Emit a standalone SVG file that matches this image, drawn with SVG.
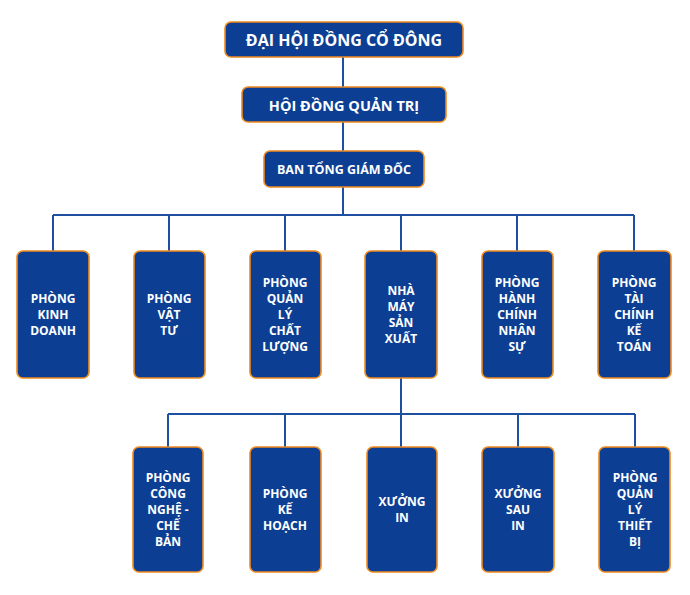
<svg xmlns="http://www.w3.org/2000/svg" width="690" height="595" viewBox="0 0 690 595">
<style>
.box{fill:#0c3f94;stroke:#f08a1e;stroke-width:1.6}
.t{font-family:"Open Sans","Liberation Sans",sans-serif;font-weight:bold;fill:#fff;text-anchor:middle;dominant-baseline:central}
.s{font-size:12px}
.ln{fill:none;stroke:#1f4fa0;stroke-width:2}
</style>
<rect width="690" height="595" fill="#fff"/>
<g id="connectors">
<path class="ln" d="M343 57V87M343 122V151M343 187V215M53 215H634M53 215V251M169 215V251M285 215V251M401 215V251M517 215V251M634 215V251"/>
<path class="ln" d="M401 378V447M168 414H635M168 414V447M285 414V447M518 414V447M635 414V447"/>
</g>
<g id="dhdcd"><rect class="box" x="225" y="22" width="238" height="35" rx="6"/><text class="t" x="344" y="40" font-size="16">ĐẠI HỘI ĐỒNG CỔ ĐÔNG</text></g>
<g id="hdqt"><rect class="box" x="242" y="87" width="204" height="35" rx="6"/><text class="t" x="344" y="105" font-size="14.5">HỘI ĐỒNG QUẢN TRỊ</text></g>
<g id="btgd"><rect class="box" x="264" y="151" width="160" height="36" rx="6"/><text class="t" x="344" y="169" font-size="12.5">BAN TỔNG GIÁM ĐỐC</text></g>

<g id="pkd"><rect class="box" x="17" y="251" width="72" height="127" rx="6"/><text class="t s" x="53" y="298">PHÒNG</text><text class="t s" x="53" y="314">KINH</text><text class="t s" x="53" y="330">DOANH</text></g>
<g id="pvt"><rect class="box" x="134" y="251" width="71" height="127" rx="6"/><text class="t s" x="169" y="298">PHÒNG</text><text class="t s" x="169" y="314">VẬT</text><text class="t s" x="169" y="330">TƯ</text></g>
<g id="pqlcl"><rect class="box" x="250" y="251" width="71" height="127" rx="6"/><text class="t s" x="285" y="282">PHÒNG</text><text class="t s" x="285" y="298">QUẢN</text><text class="t s" x="285" y="314">LÝ</text><text class="t s" x="285" y="330">CHẤT</text><text class="t s" x="285" y="346">LƯỢNG</text></g>
<g id="nmsx"><rect class="box" x="365" y="251" width="72" height="127" rx="6"/><text class="t s" x="401" y="290">NHÀ</text><text class="t s" x="401" y="306">MÁY</text><text class="t s" x="401" y="322">SẢN</text><text class="t s" x="401" y="338">XUẤT</text></g>
<g id="phcns"><rect class="box" x="482" y="251" width="71" height="127" rx="6"/><text class="t s" x="517" y="282">PHÒNG</text><text class="t s" x="517" y="298">HÀNH</text><text class="t s" x="517" y="314">CHÍNH</text><text class="t s" x="517" y="330">NHÂN</text><text class="t s" x="517" y="346">SỰ</text></g>
<g id="ptckt"><rect class="box" x="598" y="251" width="73" height="127" rx="6"/><text class="t s" x="634" y="282">PHÒNG</text><text class="t s" x="634" y="298">TÀI</text><text class="t s" x="634" y="314">CHÍNH</text><text class="t s" x="634" y="330">KẾ</text><text class="t s" x="634" y="346">TOÁN</text></g>

<g id="pcncb"><rect class="box" x="133" y="447" width="70" height="125" rx="6"/><text class="t s" x="168" y="477">PHÒNG</text><text class="t s" x="168" y="493">CÔNG</text><text class="t s" x="168" y="509">NGHỆ -</text><text class="t s" x="168" y="525">CHẾ</text><text class="t s" x="168" y="541">BẢN</text></g>
<g id="pkh"><rect class="box" x="250" y="447" width="71" height="125" rx="6"/><text class="t s" x="285" y="493">PHÒNG</text><text class="t s" x="285" y="509">KẾ</text><text class="t s" x="285" y="525">HOẠCH</text></g>
<g id="xi"><rect class="box" x="367" y="447" width="70" height="125" rx="6"/><text class="t s" x="402" y="501">XƯỞNG</text><text class="t s" x="402" y="517">IN</text></g>
<g id="xsi"><rect class="box" x="482" y="447" width="72" height="125" rx="6"/><text class="t s" x="518" y="493">XƯỞNG</text><text class="t s" x="518" y="509">SAU</text><text class="t s" x="518" y="525">IN</text></g>
<g id="pqltb"><rect class="box" x="599" y="447" width="71" height="125" rx="6"/><text class="t s" x="635" y="477">PHÒNG</text><text class="t s" x="635" y="493">QUẢN</text><text class="t s" x="635" y="509">LÝ</text><text class="t s" x="635" y="525">THIẾT</text><text class="t s" x="635" y="541">BỊ</text></g>
</svg>
